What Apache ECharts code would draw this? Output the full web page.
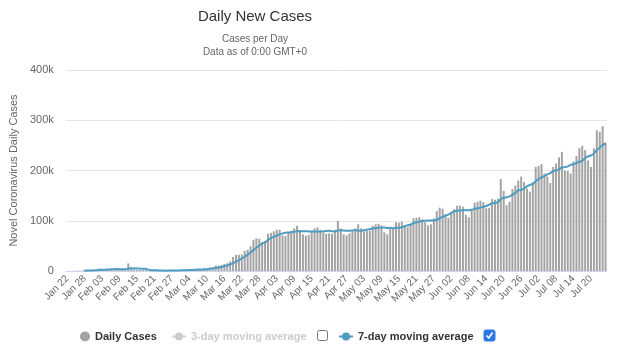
<!DOCTYPE html>
<html>
<head>
<meta charset="utf-8">
<script src="https://cdn.jsdelivr.net/npm/echarts@6/dist/echarts.min.js"></script>
<style>
  html, body { margin: 0; padding: 0; background: #fff; }
  #chart { width: 620px; height: 361px; }
</style>
</head>
<body>
<div id="chart"></div>
<script>
// ---- Data ----
const chartTitle = 'Daily New Cases';
const subtitleLines = ['Cases per Day', 'Data as of 0:00 GMT+0'];
const yAxisName = 'Novel Coronavirus Daily Cases';
const seriesNames = ['Daily Cases', '3-day moving average', '7-day moving average'];

// categories: Jan 22 .. Jul 25, 2020
const monthNames = ['Jan', 'Feb', 'Mar', 'Apr', 'May', 'Jun', 'Jul'];
const monthStartDay = [22, 1, 1, 1, 1, 1, 1];
const monthEndDay = [31, 29, 31, 30, 31, 30, 25];
const categories = [];
for (let m = 0; m < monthNames.length; m++) {
  for (let d = monthStartDay[m]; d <= monthEndDay[m]; d++) {
    categories.push(monthNames[m] + ' ' + (d < 10 ? '0' + d : '' + d));
  }
}

const dailyCases = [
  0, 99, 287, 493, 684, 809, 2651, 588, 2068, 1693,
  2111, 4749, 3094, 4011, 3743, 3915, 4156, 3530, 3078, 2600,
  2064, 15141, 6526, 2708, 2100, 2032, 1893, 1752, 548, 610,
  1010, 960, 520, 640, 860, 980, 1320, 1440, 1790, 1960,
  1900, 2490, 2270, 2820, 3910, 3960, 3890, 4010, 4520, 7010,
  7810, 10900, 10780, 11800, 14000, 15600, 19000, 28000, 32000, 32500,
  33000, 40000, 42000, 49000, 62000, 65000, 64000, 58000, 60000, 74000,
  76000, 79000, 82000, 82000, 71000, 70000, 76000, 80000, 85000, 90000,
  81000, 73000, 70000, 72000, 80000, 85000, 87000, 82000, 77000, 74000,
  75000, 74000, 82000, 100000, 85000, 73000, 71000, 75000, 80000, 85000,
  93000, 85000, 79000, 80000, 80000, 90000, 93000, 94000, 91000, 77000,
  73000, 84000, 85000, 97000, 96000, 98000, 91000, 87000, 94000, 105000,
  106000, 107000, 103000, 97000, 91000, 93000, 105000, 119000, 126000, 124000,
  113000, 106000, 117000, 123000, 130000, 130000, 128000, 112000, 107000, 122000,
  136000, 138000, 140000, 137000, 125000, 125000, 143000, 142000, 144000, 183000,
  159000, 131000, 138000, 163000, 170000, 180000, 188000, 177000, 164000, 158000,
  176000, 207000, 209000, 213000, 194000, 188000, 175000, 207000, 214000, 226000,
  237000, 200000, 199000, 194000, 218000, 229000, 245000, 249000, 241000, 220000,
  207000, 244000, 280000, 277000, 288000, 256000
];

const sevenDayAvg = [
  null, null, null, null, null, null, 718, 802, 1083, 1284,
  1515, 2096, 2422, 2616, 3067, 3331, 3683, 3885, 3647, 3576,
  3298, 4926, 5299, 5092, 4888, 4739, 4638, 4593, 2508, 1663,
  1421, 1258, 1042, 863, 735, 797, 899, 960, 1079, 1284,
  1464, 1697, 1881, 2096, 2449, 2759, 3034, 3336, 3626, 4303,
  5016, 6014, 6989, 8119, 9546, 11129, 12841, 15726, 18740, 21843,
  24871, 28586, 32357, 36643, 41500, 46214, 50714, 54286, 57143, 61714,
  65571, 68000, 70429, 73000, 74857, 76286, 76571, 77143, 78000, 79143,
  79000, 79286, 79286, 78714, 78714, 78714, 78286, 78429, 79000, 79571,
  80000, 79143, 78714, 80571, 81000, 80429, 80000, 80000, 80857, 81286,
  80286, 80286, 81143, 82429, 83143, 84571, 85714, 85857, 86714, 86429,
  85429, 86000, 85286, 85857, 86143, 87143, 89143, 91143, 92571, 95429,
  96714, 98286, 99000, 99857, 100429, 100286, 100286, 102143, 104857, 107857,
  110143, 112286, 115714, 118286, 119857, 120429, 121000, 120857, 121000, 121714,
  123571, 124714, 126143, 127429, 129286, 131857, 134857, 135714, 136571, 142714,
  145857, 146714, 148571, 151429, 155429, 160571, 161286, 163857, 168571, 171429,
  173286, 178571, 182714, 186286, 188714, 192143, 194571, 199000, 200000, 202429,
  205857, 206714, 208286, 211000, 212571, 214714, 217429, 219143, 225000, 228000,
  229857, 233571, 240857, 245429, 251000, 253143
];

const threeDayAvg = []; // hidden series in the reference (legend item switched off)

const yTicks = [0, 100000, 200000, 300000, 400000];

// ---- Chart ----
const chart = echarts.init(document.getElementById('chart'), null, { renderer: 'canvas' });
const FONT = '"Liberation Sans", Arial, sans-serif';
const BAR_COLOR = '#a3a3a3';
const LINE_COLOR = '#4f9cc2';

const legendText = { fontFamily: FONT, fontSize: 11, fontWeight: 'bold', color: '#333' };

const option = {
  animation: false,
  backgroundColor: '#fff',
  graphic: [
    { type: 'text', x: 255, y: 9, style: { text: chartTitle, fontFamily: FONT, fontSize: 15, fill: '#333', align: 'center', verticalAlign: 'top' } },
    { type: 'text', x: 255, y: 34, style: { text: subtitleLines[0], fontFamily: FONT, fontSize: 10, fill: '#666', align: 'center', verticalAlign: 'top' } },
    { type: 'text', x: 255, y: 47.5, style: { text: subtitleLines[1], fontFamily: FONT, fontSize: 10, fill: '#666', align: 'center', verticalAlign: 'top' } },
    { type: 'rect', shape: { x: 317.5, y: 330.5, width: 10, height: 10, r: 2 }, style: { fill: '#fff', stroke: '#767676', lineWidth: 1 } },
    { type: 'rect', shape: { x: 484, y: 330, width: 11, height: 11, r: 2 }, style: { fill: '#2a78e4', stroke: '#2a78e4', lineWidth: 1 } },
    { type: 'polyline', shape: { points: [[486.5, 335.5], [488.8, 338], [492.5, 332.5]] }, style: { stroke: '#fff', lineWidth: 1.6, fill: null } }
  ],
  legend: [
    {
      data: [{ name: seriesNames[0], icon: 'circle' }],
      left: 75, top: 326, itemWidth: 10, itemHeight: 10, itemGap: 5,
      textStyle: legendText, inactiveColor: '#ccc'
    },
    {
      data: [seriesNames[1]],
      left: 166, top: 326, itemWidth: 14, itemHeight: 10,
      textStyle: legendText, inactiveColor: '#cccccc',
      selected: { '3-day moving average': false }
    },
    {
      data: [seriesNames[2]],
      left: 333, top: 326, itemWidth: 14, itemHeight: 10,
      textStyle: legendText, inactiveColor: '#ccc'
    }
  ],
  grid: { left: 57, right: 13, top: 70, bottom: 90, containLabel: false },
  xAxis: {
    type: 'category',
    data: categories,
    boundaryGap: true,
    axisLine: { show: true, lineStyle: { color: '#ccd6eb', width: 1 } },
    axisTick: { show: false },
    axisLabel: {
      interval: 5,
      rotate: 45,
      margin: 6,
      fontFamily: FONT,
      fontSize: 10,
      color: '#666'
    },
    splitLine: { show: false }
  },
  yAxis: {
    type: 'value',
    min: yTicks[0],
    max: yTicks[yTicks.length - 1],
    interval: 100000,
    name: yAxisName,
    nameLocation: 'middle',
    nameGap: 46,
    nameRotate: 90,
    nameTextStyle: { fontFamily: FONT, fontSize: 11, color: '#666' },
    axisLine: { show: false },
    axisTick: { show: false },
    axisLabel: {
      margin: 12,
      fontFamily: FONT,
      fontSize: 11,
      color: '#666',
      formatter: function (v) { return v === 0 ? '0' : (v / 1000) + 'k'; }
    },
    splitLine: { show: true, lineStyle: { color: '#e6e6e6', width: 1 } }
  },
  series: [
    {
      name: seriesNames[0],
      type: 'bar',
      data: dailyCases,
      barWidth: '68%',
      itemStyle: { color: BAR_COLOR },
      z: 2
    },
    {
      name: seriesNames[1],
      type: 'line',
      data: threeDayAvg,
      symbol: 'circle',
      symbolSize: 6,
      showSymbol: false,
      itemStyle: { color: '#cccccc' },
      lineStyle: { color: '#cccccc', width: 2 }
    },
    {
      name: seriesNames[2],
      type: 'line',
      data: sevenDayAvg,
      symbol: 'circle',
      symbolSize: 6,
      showSymbol: false,
      smooth: 0.2,
      itemStyle: { color: LINE_COLOR },
      lineStyle: { color: LINE_COLOR, width: 2 },
      z: 3
    }
  ]
};
chart.setOption(option);
</script>
</body>
</html>
